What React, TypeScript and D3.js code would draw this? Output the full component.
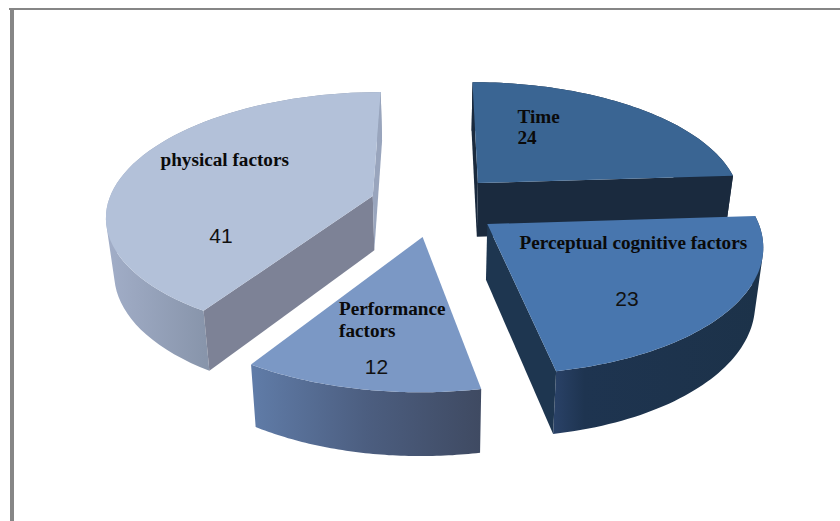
// App.tsx
import React from "react";
import * as d3 from "d3";

const categories = ["Time", "Perceptual cognitive factors", "Performance factors", "physical factors"];
const values = [24, 23, 12, 41];

// Colours per slice: top face, cut faces, rim gradient stops
const topColors = ["#3a6593", "#4876ae", "#7b98c5", "#b3c1d9"];
const cutColors = [["#1a2a3e", "#1a2a3e"], ["#1e3650", "#1e3650"], ["#4d5f80", "#4d5f80"], ["#7d8296", "#99a5bd"]];
const rimStops = [
  [[0, "#1a2a3e"], [1, "#1a2a3e"]],
  [[0, "#2a4268"], [0.15, "#1e3450"], [1, "#1c3249"]],
  [[0, "#607ca8"], [0.5, "#4c5e80"], [1, "#3f4a62"]],
  [[0, "#a2aec8"], [0.36, "#8895ab"], [1, "#8895ab"]],
];

// Explosion of every slice on the pie plane, in pie radii
const explode = [[0.166, 0.226], [0.1925, -0.112], [-0.045, -0.212], [-0.237, 0.115]];

// Perspective camera for the pie plane
const centerX = 435;
const centerY = 210;
const radiusX = 267;
const radiusY = 123.3;
const perspective = 0.1486;
const depth = 55;

const width = 840;
const height = 521;

type Pt = [number, number];

// plane coordinates -> screen, top face
const project = (x: number, y: number): Pt => {
  const w = 1 + perspective * y;
  return [centerX + (radiusX * x) / w, centerY - (radiusY * y) / w];
};

// the same point on the bottom of the slab
const lower = (x: number, y: number): Pt => {
  const [sx, sy] = project(x, y);
  const s = 1 / (1 + perspective * y);
  return [sx + (centerX - sx) * 0.025, sy + depth * Math.pow(s, 0.75)];
};

const line = d3.line<Pt>().x(d => d[0]).y(d => d[1]);

const pie = d3.pie<number>().sort(null).startAngle(0).endAngle(2 * Math.PI);
const arcs = pie(values);

const slices = arcs.map((a, i) => {
  const [ox, oy] = explode[i];
  const angles = d3.range(0, 61).map(k => a.startAngle + ((a.endAngle - a.startAngle) * k) / 60);
  const world = angles.map(t => [ox + Math.sin(t), oy + Math.cos(t)] as Pt);
  const top = world.map(p => project(p[0], p[1]));
  const bottom = world.map(p => lower(p[0], p[1]));
  const apex = project(ox, oy);
  const apexLow = lower(ox, oy);
  const n = top.length - 1;

  // the rim is swept strip by strip so its silhouette joins both arcs,
  // every strip wound the same way to keep the fill solid
  const rim = d3
    .range(0, n)
    .map(k => {
      const quad: Pt[] = [top[k], top[k + 1], bottom[k + 1], bottom[k]];
      if (d3.polygonArea(quad) < 0) quad.reverse();
      return line(quad) + "Z";
    })
    .join("");

  const cuts: { d: string; fill: string }[] = [];
  // a cut face shows only when it turns towards the viewer
  if (top[0][0] < apex[0]) {
    cuts.push({ d: line([apex, top[0], bottom[0], apexLow]) + "Z", fill: cutColors[i][0] });
  }
  if (top[n][0] > apex[0]) {
    cuts.push({ d: line([apex, top[n], bottom[n], apexLow]) + "Z", fill: cutColors[i][1] });
  }
  const face = line([apex, ...top]) + "Z";
  return { i, oy, rim, cuts, face };
});

// Back slices are painted first
const paintOrder = [...slices].sort((a, b) => b.oy - a.oy);

const serif = "'Liberation Serif', serif";
const sans = "'Liberation Sans', sans-serif";

// Label placement per slice
const nameLines = [["Time"], ["Perceptual cognitive factors"], ["Performance", "factors"], ["physical factors"]];
const namePos = [[517.5, 122.5], [519.5, 249], [339, 315], [160.5, 165.5]];
const valuePos = [[517.5, 144], [627, 306], [376.5, 374], [221, 242.5]];

const App = () => {
  return (
    <svg
      width={width}
      height={height}
      style={{ position: "fixed", left: 0, top: 0, background: "#fff" }}
    >
      <defs>
        {rimStops.map((stops, i) => (
          <linearGradient key={i} id={`rim-${i}`} x1="0" x2="1" y1="0" y2="0">
            {stops.map((s, j) => (
              <stop key={j} offset={s[0] as number} stopColor={s[1] as string} />
            ))}
          </linearGradient>
        ))}
      </defs>

      {/* frame left over from the source document */}
      <rect x={10} y={8} width={4} height={height - 8} fill="#868686" />
      <rect x={9} y={8} width={width - 9} height={2} fill="#868686" />

      {paintOrder.map(s => (
        <g key={s.i}>
          <path d={s.rim} fill={`url(#rim-${s.i})`} />
          {s.cuts.map((c, j) => (
            <path key={j} d={c.d} fill={c.fill} />
          ))}
          <path d={s.face} fill={topColors[s.i]} />
        </g>
      ))}

      {categories.map((_, i) => (
        <g key={i}>
          <text
            x={namePos[i][0]}
            y={namePos[i][1]}
            fontFamily={serif}
            fontWeight="bold"
            fontSize={19.2}
            fill="#0a0a0a"
          >
            {nameLines[i].map((t, j) => (
              <tspan key={j} x={namePos[i][0]} dy={j === 0 ? 0 : 22}>
                {t}
              </tspan>
            ))}
          </text>
          {i === 0 ? (
            <text x={valuePos[i][0]} y={valuePos[i][1]} fontFamily={serif} fontWeight="bold" fontSize={19.2} fill="#0a0a0a">
              {values[i]}
            </text>
          ) : (
            <text x={valuePos[i][0]} y={valuePos[i][1]} textAnchor="middle" fontFamily={sans} fontSize={21} fill="#111">
              {values[i]}
            </text>
          )}
        </g>
      ))}
    </svg>
  );
};

export default App;
